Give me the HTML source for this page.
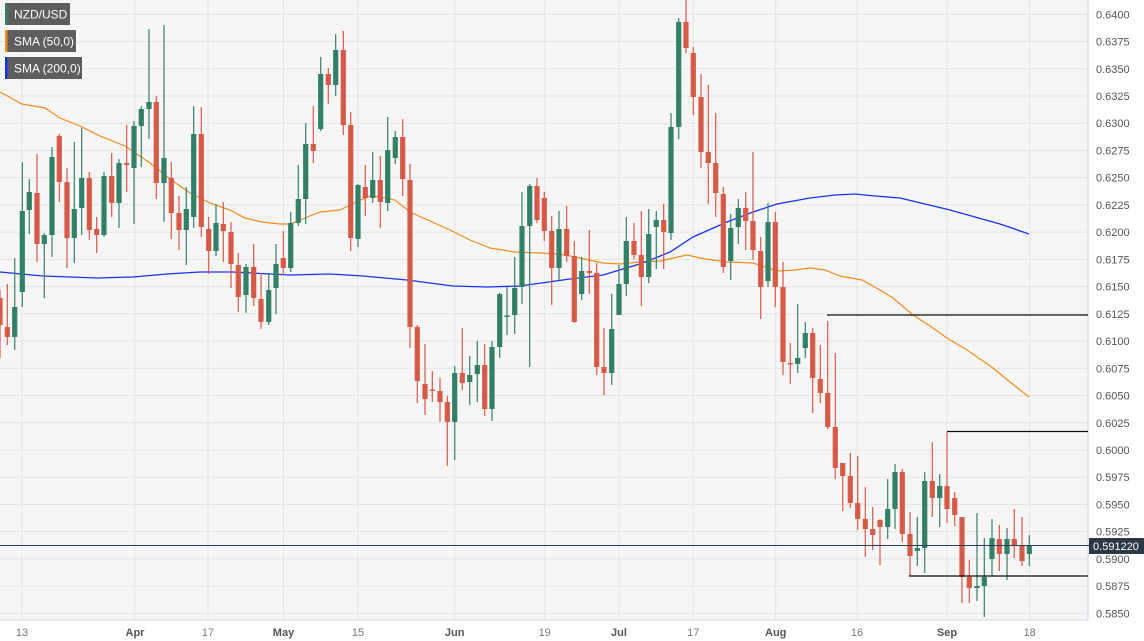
<!DOCTYPE html>
<html><head><meta charset="utf-8"><style>
html,body{margin:0;padding:0;background:#fff;width:1144px;height:641px;overflow:hidden;font-family:"Liberation Sans",Arial,sans-serif}
svg{display:block}
</style></head><body>
<svg id="c" width="1144" height="641" xmlns="http://www.w3.org/2000/svg">
<rect x="0" y="0" width="1088" height="620" fill="#f6f6f6"/>
<g id="grid"></g>
<g id="lines"></g>
<g id="candles"></g>
<g id="labels" font-size="11" fill="#555"></g>
<line x1="1088" y1="0" x2="1088" y2="620" stroke="#cdd3e0"/>
<line x1="0" y1="620" x2="1088" y2="620" stroke="#cdd3e0"/>
<line x1="827" y1="315" x2="1088" y2="315" stroke="#111" stroke-width="1.3"/>
<line x1="947" y1="431.5" x2="1088" y2="431.5" stroke="#111" stroke-width="1.3"/>
<line x1="909" y1="576" x2="1088" y2="576" stroke="#111" stroke-width="1.3"/>
<line x1="0" y1="545.5" x2="1090" y2="545.5" stroke="#2c3e55" stroke-width="1"/>
<rect x="1089" y="538" width="55" height="16" fill="#2c3848"/>
<text x="1116" y="550" font-size="11" fill="#fff" text-anchor="middle">0.591220</text>
<g font-size="12" fill="#fff">
<rect x="5" y="3" width="65" height="22" fill="#555" opacity="0.95"/><rect x="5" y="3" width="2.5" height="22" fill="#338069"/><text x="14" y="18.5">NZD/USD</text>
<rect x="5" y="30" width="71" height="22" fill="#555" opacity="0.95"/><rect x="5" y="30" width="2.5" height="22" fill="#f28a1c"/><text x="14" y="45.5">SMA (50,0)</text>
<rect x="5" y="57" width="77" height="22" fill="#555" opacity="0.95"/><rect x="5" y="57" width="2.5" height="22" fill="#1533ee"/><text x="14" y="72.5">SMA (200,0)</text>
</g>
</svg>
<script>
var NS="http://www.w3.org/2000/svg";
function el(p,t,a,txt){var e=document.createElementNS(NS,t);for(var k in a)e.setAttribute(k,a[k]);if(txt!=null)e.textContent=txt;document.getElementById(p).appendChild(e);}
// grid
for(var i=0;i<23;i++){var y=14.3+27.23*i;el("grid","line",{x1:0,x2:1088,y1:y,y2:y,stroke:"#e4e4e4","stroke-width":1});
var v=(0.64-0.0025*i).toFixed(4);el("labels","text",{x:1096,y:y+4},v);}
var vx=[22,135,208,283.5,358,454.7,544.7,619,693.3,775.7,857,947,1029.7];
var vl=["13","Apr","17","May","15","Jun","19","Jul","17","Aug","16","Sep","18"];
for(var i=0;i<vx.length;i++){el("grid","line",{x1:vx[i],x2:vx[i],y1:0,y2:620,stroke:"#e4e4e4","stroke-width":1});
var bold=isNaN(+vl[i]);el("labels","text",{x:vx[i],y:636,"text-anchor":"middle","font-weight":bold?"bold":"normal",fill:bold?"#555":"#777"},vl[i]);}
// candles: x, bodyTop, bodyBottom, high, low, g/r
var C=[[0,298,325,290,358,"r"],[7.3,327,337,284,345,"r"],[14.7,307,337,258,350,"g"],[22.3,211,292,162,307,"g"],[29.3,192,210,179,234,"g"],[37,193,244,154,262,"r"],[44.3,235,244,233,298,"g"],[52,157,235,147,257,"g"],[59.3,136,182,134,202,"r"],[67,182,238,168,268,"r"],[74.3,209,238,142,263,"g"],[81.7,178,208,128,235,"g"],[89.3,178,230,172,240,"r"],[96.7,229,235,217,253,"r"],[104,176,235,172,237,"g"],[111.7,176,203,153,217,"r"],[119,163,203,159,228,"g"],[126.7,163,165,125,192,"r"],[134,126,168,121,224,"g"],[141.3,109,126,106,167,"g"],[149,102,109,29,139,"g"],[156.3,102,183,96,199,"r"],[164,158,183,25,222,"g"],[171.3,178,213,162,239,"r"],[179,213,230,196,250,"r"],[186.3,209,230,187,265,"g"],[193.7,134,217,106,228,"g"],[201.3,134,227,107,237,"r"],[208.7,229,251,217,274,"r"],[216,223,251,204,256,"g"],[223.3,224,231,202,262,"r"],[231,232,264,222,288,"r"],[238.3,265,297,253,312,"r"],[246,267,295,264,313,"g"],[253.7,267,298,244,306,"r"],[261,299,322,273,329,"r"],[268.7,290,322,273,325,"g"],[276,264,288,244,314,"g"],[283.3,258,268,231,275,"r"],
[290.7,223,268,212,272,"g"],[298.3,199,223,165,226,"g"],[305.7,144,199,123,224,"g"],[313.3,144,151,106,163,"r"],[320.7,74,129,57,131,"g"],[328.3,74,85,68,104,"r"],[335.7,50,85,34,96,"g"],[343.3,50,125,31,135,"r"],[350.7,125,238,112,251,"r"],[358,185,239,184,247,"g"],[365.3,187,198,165,216,"r"],[372.7,180,198,152,203,"g"],[380.3,180,202,156,228,"r"],[387.7,150,203,117,211,"g"],[395.3,137,158,131,164,"g"],[402.7,137,179,119,196,"r"],[410,180,327,164,348,"r"],[417.3,327,381,325,403,"r"],[425,384,399,344,415,"r"],[432.3,389.5,391,371,402,"r"],[440,391,402,378,422,"r"],[447.3,402,422,396,466,"r"],[454.7,373,422,366,460,"g"],[462.3,373,383,328,390,"r"],[469.7,375,382,356,405,"g"],[477.3,365,374,341,402,"g"],[484.7,365,409,344,416,"r"],[492,347,409,341,421,"g"],[499.7,294,347,293,358,"g"],[507,315.5,317,287,335,"g"],[514.7,288,315,257,334,"g"],[522,226,287,192,304,"g"],[529.7,186,226,184,367,"g"],[537,186,220,178,223,"r"],[544.3,198,231,192,241,"r"],[551.7,231,268,216,305,"r"],[559,229,268,211,280,"g"],[566.7,229,256,206,262,"r"],
[574.3,256,322,241,323,"r"],[581.7,271,294,257,300,"g"],[589.3,271,273,230,294,"r"],[596.7,273,367,263,375,"r"],[604,367,373,328,395,"r"],[611.7,329,373,294,385,"g"],[619,284,315,265,315,"g"],[626.3,241,284,217,296,"g"],[634,241,255,223,259,"r"],[641.3,255,277,211,306,"r"],[648.7,234,277,209,283,"g"],[656.3,220,227,211,269,"g"],[663.7,220,232,204,269,"r"],[671,127,233,113,240,"g"],[678.7,22,127,18,139,"g"],[686,22,48,0,53,"r"],[693.3,53,97,47,115,"r"],[701,97,152,74,168,"r"],[708.3,152,163,85,204,"r"],[715.7,163,193,113,217,"r"],[723.3,194,267,187,273,"r"],[730.7,228,261,214,280,"g"],[738.3,208,227,199,244,"g"],[745.7,208,221,192,250,"r"],[753,221,250,152,260,"r"],[760.7,251,287,237,319,"r"],[768,222,281,203,287,"g"],[775.3,222,287,212,307,"r"],[783,287,362,262,375,"r"],[790.3,363,364.5,343,384,"r"],[797.7,358,364,304,373,"g"],[805.3,333,348,322,358,"g"],
[812.7,333,378,328,413,"r"],[820.3,379,393,345,403,"r"],[827.7,393,427,321,429,"r"],[835.3,427,468,353,479,"r"],[842.7,463,476,463,511,"r"],[850.3,476,503,453,508,"r"],[857.7,503,519,456,530,"r"],[865.3,519,529,487,557,"r"],[872.7,529,535,507,550,"r"],[880,520,527,519,565,"r"],[887.7,509,527,479,539,"g"],[895,472,509,464,529,"g"],[902.3,472,534,469,542,"r"],[910,534,556,512,576,"r"],[917.3,548,551,517,566,"g"],[924.7,481,548,472,573,"g"],[932.3,481,498,442,517,"r"],[939.7,486,498,474,527,"g"],[947,486,509,432,523,"r"],[954.7,498,515,492,526,"r"],[962,517,577,517,603,"r"],[969.3,577,588,560,603,"r"],[977,586,588,513,601,"g"],[984.3,577,586,538,617,"g"],[992,538,559,519,576,"g"],[999.3,539,554,525,571,"r"],[1007,539,554,528,580,"g"],[1014.3,539,546,509,558,"r"],[1022,546,561,517,566,"r"],[1029.3,546,554,535,566,"g"]];
C.forEach(function(c){var col=c[5]=="g"?"#338069":"#d65a48";
el("candles","line",{x1:c[0],x2:c[0],y1:c[3],y2:c[4],stroke:col,"stroke-width":1.2});
var h=Math.max(c[2]-c[1],1.5);
el("candles","rect",{x:c[0]-2.6,y:c[1],width:5.2,height:h,fill:col});});
var o=[[0,92],[22,104],[45,108],[60,118],[80,126],[100,136],[125,146],[150,163],[170,179],[190,193],[210,203],[230,210],[245,218],[262,222],[280,224],[290,224],[300,220],[320,212],[340,210],[356,202],[370,196],[380,197],[395,200],[410,212],[430,221],[450,230],[470,240],[490,248],[515,252],[540,253],[560,254],[580,258],[603,263],[620,264],[640,262],[660,261],[687,255],[705,259],[727,262],[753,263],[777,271],[795,270],[810,268],[825,270],[840,276],[862,280],[880,290],[893,298],[913,315],[930,326],[947,338],[967,350],[993,368],[1010,382],[1029,397]];
var b=[[0,272],[43,276],[97,278],[133,277],[167,274],[200,272],[233,272],[290,275],[330,274],[363,276],[407,280],[453,286],[487,287],[520,286],[570,279],[603,275],[643,263],[670,252],[693,237],[727,222],[753,212],[777,204],[810,198],[835,195],[855,194],[875,196],[900,198],[950,210],[1000,224],[1029,234]];
function pts(a){return a.map(function(p){return p[0]+","+p[1]}).join(" ")}
el("lines","polyline",{points:pts(o),fill:"none",stroke:"#f28a1c","stroke-width":1.2});
el("lines","polyline",{points:pts(b),fill:"none",stroke:"#1533ee","stroke-width":1.3});
</script>
</body></html>
